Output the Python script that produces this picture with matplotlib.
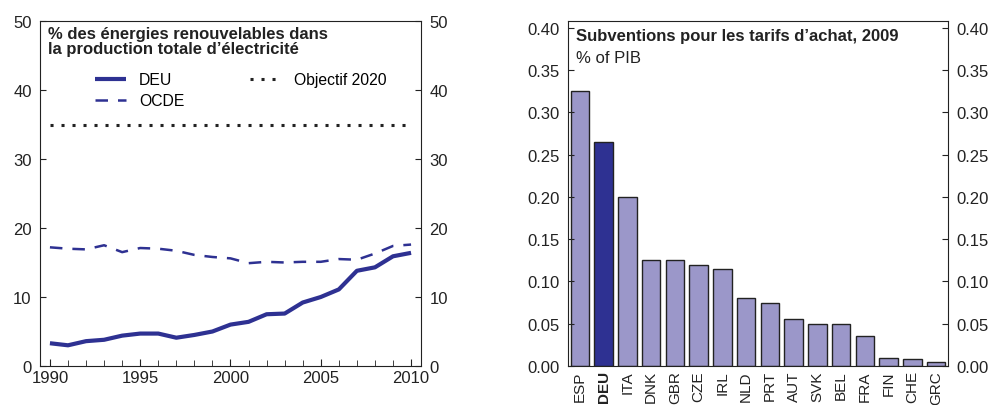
import matplotlib
matplotlib.use("Agg")
import matplotlib.pyplot as plt
from matplotlib import font_manager as fm
from matplotlib.ticker import MultipleLocator, FormatStrFormatter

plt.rcParams['font.family'] = ['Liberation Sans', 'DejaVu Sans']


def find_font(name):
    for f in fm.findSystemFonts():
        if f.endswith(name):
            return f
    return None


bold_file = find_font('LiberationSans-Bold.ttf')
reg_file = find_font('LiberationSans-Regular.ttf')


def fp(size, bold=False):
    f = bold_file if bold else reg_file
    if f:
        return fm.FontProperties(fname=f, size=size)
    return fm.FontProperties(family='DejaVu Sans', size=size,
                             weight='bold' if bold else 'normal')


years = list(range(1990, 2011))
deu = [3.3, 3.0, 3.6, 3.8, 4.4, 4.7, 4.7, 4.1, 4.5, 5.0, 6.0, 6.4, 7.5, 7.6,
       9.2, 10.0, 11.1, 13.8, 14.3, 15.9, 16.4]
ocde = [17.2, 17.0, 16.9, 17.5, 16.5, 17.1, 17.0, 16.7, 16.1, 15.8, 15.6, 14.9,
        15.1, 15.0, 15.1, 15.1, 15.5, 15.4, 16.3, 17.4, 17.6]
target_2020 = 35.0

countries = ['ESP', 'DEU', 'ITA', 'DNK', 'GBR', 'CZE', 'IRL', 'NLD', 'PRT',
             'AUT', 'SVK', 'BEL', 'FRA', 'FIN', 'CHE', 'GRC']
subsidies = [0.325, 0.265, 0.20, 0.125, 0.125, 0.12, 0.115, 0.08, 0.075,
             0.055, 0.05, 0.05, 0.035, 0.01, 0.008, 0.005]

dark = '#2e3192'
light = '#9b97c9'
ink = '#222222'
tick_fs = 12
rot_fs = 11

fig = plt.figure(figsize=(9.96, 4.06), dpi=100)

# Left panel
ax1 = fig.add_axes([40/996, 39/406, 381/996, 345/406])
ax1.plot(years, deu, color=dark, lw=3.0, label='DEU', solid_capstyle='butt')
ax1.plot(years, ocde, color=dark, lw=1.8, ls=(0, (5, 4)), label='OCDE')
ax1.plot(years, [target_2020] * len(years), color=ink, lw=2.2,
         ls=(0, (1, 2.6)), label='Objectif 2020')
ax1.set_xlim(1989.45, 2010.55)
ax1.set_ylim(0, 50)
ax1.xaxis.set_major_locator(MultipleLocator(5))
ax1.xaxis.set_minor_locator(MultipleLocator(1))
ax1.yaxis.set_major_locator(MultipleLocator(10))
ax1.tick_params(axis='both', which='both', direction='in', colors=ink,
                right=True, labelright=True, labelsize=tick_fs)
ax1.tick_params(axis='x', which='major', length=5)
ax1.tick_params(axis='x', which='minor', length=4)
ax1.tick_params(axis='y', length=4, pad=6)
ax1.tick_params(axis='x', pad=3)
for s in ax1.spines.values():
    s.set_color(ink)
ax1.text(0.02, 0.985, '% des énergies renouvelables dans\nla production totale d\u2019électricité',
         transform=ax1.transAxes, ha='left', va='top', fontproperties=fp(12, True),
         linespacing=0.95, color=ink)
ax1.legend(loc='upper left', bbox_to_anchor=(0.128, 0.87), ncol=2, frameon=False,
           prop=fp(11.3), handlelength=2.0, columnspacing=4.2, handletextpad=0.8,
           labelspacing=0.4, borderaxespad=0)

# Right panel
ax2 = fig.add_axes([568/996, 39/406, 380/996, 345/406])
x = list(range(len(countries)))
colors = [dark if c == 'DEU' else light for c in countries]
ax2.bar(x, subsidies, width=0.78, color=colors, edgecolor=ink, linewidth=1.0)
ax2.set_xlim(-0.5, len(countries) - 0.5)
ax2.set_ylim(0, 0.408)
ax2.yaxis.set_major_locator(MultipleLocator(0.05))
ax2.yaxis.set_major_formatter(FormatStrFormatter('%.2f'))
ax2.set_xticks(x)
ax2.set_xticklabels(countries, rotation=90)
for lbl in ax2.get_xticklabels():
    lbl.set_fontproperties(fp(rot_fs, lbl.get_text() == 'DEU'))
ax2.tick_params(axis='x', length=0, pad=3, colors=ink)
ax2.tick_params(axis='y', direction='in', right=True, labelsize=tick_fs,
                labelright=True, length=4, pad=6, colors=ink)
for s in ax2.spines.values():
    s.set_color(ink)
ax2.text(0.02, 0.98, 'Subventions pour les tarifs d\u2019achat, 2009',
         transform=ax2.transAxes, ha='left', va='top', fontproperties=fp(12, True),
         color=ink)
ax2.text(0.02, 0.915, '% of PIB', transform=ax2.transAxes, ha='left', va='top',
         fontproperties=fp(12), color=ink)

fig.savefig('out.png', dpi=100)
